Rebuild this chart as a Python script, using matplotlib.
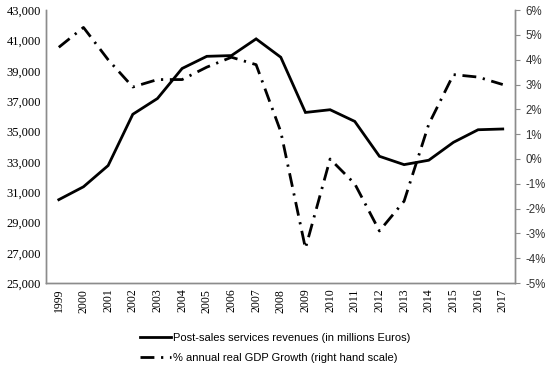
import matplotlib
matplotlib.use("Agg")
import matplotlib.pyplot as plt
from matplotlib.ticker import FuncFormatter

years = [str(y) for y in range(1999, 2018)]
revenues = [30500, 31350, 32750, 36130, 37170, 39150, 39950, 40000, 41100, 39890,
            36250, 36430, 35660, 33360, 32810, 33100, 34280, 35110, 35160]
gdp_growth = [4.5, 5.3, 4.0, 2.9, 3.2, 3.2, 3.7, 4.1, 3.8, 1.1,
              -3.6, 0.0, -1.0, -2.9, -1.7, 1.4, 3.4, 3.3, 3.0]
left_ticks = list(range(25000, 43001, 2000))
right_ticks = list(range(-5, 7))

serif = ["Liberation Serif", "DejaVu Serif"]
sans = ["Liberation Sans", "DejaVu Sans"]
spine_col = "#8c8c8c"

fig = plt.figure(figsize=(5.5, 3.66), dpi=100)
ax = fig.add_axes([0.0845, 0.2265, 0.852, 0.746])
ax2 = ax.twinx()

x = list(range(len(years)))
l1, = ax.plot(x, revenues, color="black", lw=2.0, solid_joinstyle="miter")
l2, = ax2.plot(x, gdp_growth, color="black", lw=2.0, dashes=[5, 2.4, 0.8, 2.4])

ax.set_xlim(-0.5, len(years) - 0.5)
ax.set_ylim(25000, 43000)
ax.set_yticks(left_ticks)
ax.yaxis.set_major_formatter(FuncFormatter(lambda v, p: f"{int(v):,}"))
ax2.set_ylim(-5, 6)
ax2.set_yticks(right_ticks)
ax2.yaxis.set_major_formatter(FuncFormatter(lambda v, p: f"{int(round(v))}%"))

ax.set_xticks(x)
ax.set_xticklabels(years, rotation=90, family=serif, fontsize=8.5)
ax.tick_params(axis="x", length=0, pad=4)
ax.tick_params(axis="y", length=0, pad=4)
for lab in ax.get_yticklabels():
    lab.set_family(serif)
    lab.set_fontsize(9)
ax2.tick_params(axis="y", length=3.5, width=0.8, color=spine_col, pad=4)
for lab in ax2.get_yticklabels():
    lab.set_family(sans)
    lab.set_fontsize(8.3)
    lab.set_color("#333333")

for a in (ax, ax2):
    a.spines["top"].set_visible(False)
    for s in ("left", "right", "bottom"):
        a.spines[s].set_color(spine_col)
        a.spines[s].set_linewidth(1.0)

leg = fig.legend([l1, l2],
                 ["Post-sales services revenues (in millions Euros)",
                  "% annual real GDP Growth (right hand scale)"],
                 loc="lower center", bbox_to_anchor=(0.5, -0.02), ncol=1,
                 frameon=False, prop={"family": sans, "size": 8},
                 handlelength=2.8, handletextpad=0.2, labelspacing=0.95,
                 alignment="left")

fig.savefig("out.png", dpi=100)
